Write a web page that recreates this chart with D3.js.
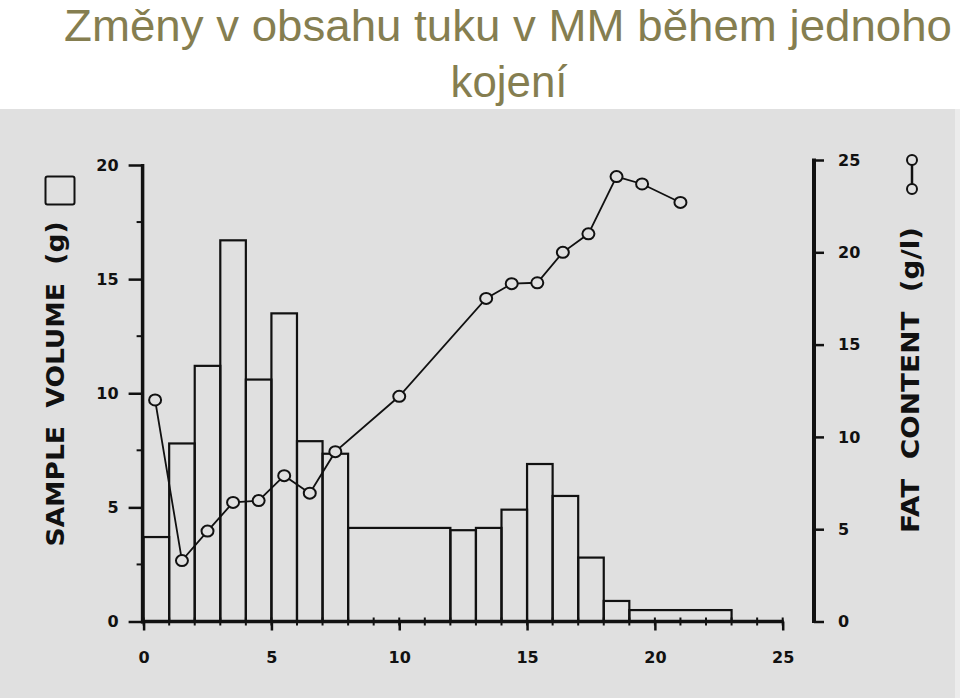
<!DOCTYPE html>
<html>
<head>
<meta charset="utf-8">
<script src="https://cdn.jsdelivr.net/npm/d3@7/dist/d3.min.js"></script>
<style>
  html, body { margin: 0; padding: 0; background: #ffffff; }
  svg { display: block; }
</style>
</head>
<body>
<svg id="chart" width="960" height="698"></svg>
<script>
// ---------- data ----------
const titleLines = ["Změny v obsahu tuku v MM během jednoho", "kojení"];
const binStart = [0, 1, 2, 3, 4, 5, 6, 7, 8, 12, 13, 14, 15, 16, 17, 18, 19];
const binEnd   = [1, 2, 3, 4, 5, 6, 7, 8, 12, 13, 14, 15, 16, 17, 18, 19, 23];
const sampleVolume = [3.7, 7.8, 11.2, 16.7, 10.6, 13.5, 7.9, 7.35, 4.1, 4.0, 4.1, 4.9, 6.9, 5.5, 2.8, 0.9, 0.5];
const fatTime = [0.45, 1.5, 2.5, 3.5, 4.5, 5.5, 6.5, 7.5, 10, 13.4, 14.4, 15.4, 16.4, 17.4, 18.5, 19.5, 21];
const fatContent = [12.0, 3.3, 4.9, 6.45, 6.55, 7.9, 6.95, 9.2, 12.2, 17.5, 18.3, 18.35, 20.0, 21.0, 24.1, 23.7, 22.7];
const xTicks = [0, 5, 10, 15, 20, 25];
const xMinorTicks = d3.range(0, 26, 1);
const yLeftTicks = [0, 5, 10, 15, 20];
const yLeftMinor = [2.5, 7.5, 12.5, 17.5];
const yRightTicks = [0, 5, 10, 15, 20, 25];
const leftLabel = "SAMPLE  VOLUME  (g)";
const rightLabel = "FAT  CONTENT  (g/l)";

// ---------- setup ----------
const svg = d3.select("#chart");
const bg = "#e0e0e0";
const ink = "#111";
const tickFont = "'DejaVu Sans', sans-serif";

svg.append("rect").attr("x", 0).attr("y", 109).attr("width", 955).attr("height", 589).attr("fill", bg);
svg.append("rect").attr("x", 955).attr("y", 109).attr("width", 5).attr("height", 589).attr("fill", "#ececec");

// title
const title = svg.append("g").attr("fill", "#857e50")
  .style("font-family", "'Liberation Sans', Arial, sans-serif").style("font-size", "44px");
title.append("text").attr("x", 508).attr("y", 41).attr("text-anchor", "middle")
  .attr("textLength", 888).attr("lengthAdjust", "spacingAndGlyphs").text(titleLines[0]);
title.append("text").attr("x", 509).attr("y", 97).attr("text-anchor", "middle")
  .attr("textLength", 117).attr("lengthAdjust", "spacingAndGlyphs").text(titleLines[1]);

// scales
const x = d3.scaleLinear().domain([0, 25]).range([143.6, 782.7]);
const yL = d3.scaleLinear().domain([0, 20]).range([621.5, 165]);
const yR = d3.scaleLinear().domain([0, 25]).range([621.5, 160]);

// ---------- bars ----------
const bars = binStart.map((s, i) => ({ s, e: binEnd[i], v: sampleVolume[i] }));
svg.append("g").selectAll("rect").data(bars).join("rect")
  .attr("x", d => x(d.s))
  .attr("y", d => yL(d.v))
  .attr("width", d => x(d.e) - x(d.s))
  .attr("height", d => yL(0) - yL(d.v))
  .attr("fill", "none")
  .attr("stroke", ink)
  .attr("stroke-width", 2.2);

// ---------- fat line ----------
const pts = fatTime.map((t, i) => ({ t, f: fatContent[i] }));
svg.append("path").datum(pts)
  .attr("d", d3.line().x(d => x(d.t)).y(d => yR(d.f)))
  .attr("fill", "none").attr("stroke", ink).attr("stroke-width", 1.8);
svg.append("g").selectAll("ellipse").data(pts).join("ellipse")
  .attr("cx", d => x(d.t)).attr("cy", d => yR(d.f))
  .attr("rx", 6).attr("ry", 5.5)
  .attr("fill", bg).attr("stroke", ink).attr("stroke-width", 2);

// ---------- axes ----------
function styleAxis(g, fontSize) {
  g.select(".domain").remove();
  g.selectAll(".tick line").attr("stroke", ink).attr("stroke-width", 2.5);
  g.selectAll(".tick text").attr("fill", ink)
    .style("font-family", tickFont).style("font-weight", "bold").style("font-size", fontSize);
}

// bottom axis
const gx = svg.append("g").attr("transform", `translate(0,${yL(0)})`)
  .call(d3.axisBottom(x).tickValues(xTicks).tickSize(9).tickPadding(21).tickFormat(d3.format("d")));
styleAxis(gx, "16px");
svg.append("g").selectAll("line").data(xMinorTicks).join("line")
  .attr("x1", d => x(d)).attr("x2", d => x(d))
  .attr("y1", yL(0) - 4).attr("y2", yL(0) + 4)
  .attr("stroke", ink).attr("stroke-width", 2);
svg.append("line").attr("x1", x(0) - 2).attr("x2", x(25) + 1)
  .attr("y1", yL(0)).attr("y2", yL(0)).attr("stroke", ink).attr("stroke-width", 3.5);

// left axis
const gl = svg.append("g").attr("transform", `translate(${x(0) - 1},0)`)
  .call(d3.axisLeft(yL).tickValues(yLeftTicks).tickSize(14).tickPadding(10).tickFormat(d3.format("d")));
styleAxis(gl, "16px");
svg.append("g").selectAll("line").data(yLeftMinor).join("line")
  .attr("x1", x(0) - 7).attr("x2", x(0))
  .attr("y1", d => yL(d)).attr("y2", d => yL(d))
  .attr("stroke", ink).attr("stroke-width", 2);
svg.append("line").attr("x1", x(0) - 1).attr("x2", x(0) - 1)
  .attr("y1", yL(20) - 1).attr("y2", yL(0) + 2).attr("stroke", ink).attr("stroke-width", 3.5);

// right axis
const rx = 814;
const gr = svg.append("g").attr("transform", `translate(${rx},0)`)
  .call(d3.axisRight(yR).tickValues(yRightTicks).tickSize(10).tickPadding(14).tickFormat(d3.format("d")));
styleAxis(gr, "16px");
svg.append("line").attr("x1", rx).attr("x2", rx)
  .attr("y1", yR(25) - 1.5).attr("y2", yR(0) + 1.5).attr("stroke", ink).attr("stroke-width", 4);

// ---------- axis titles & legend symbols ----------
svg.append("text")
  .attr("transform", "translate(63.5,384) rotate(-90)")
  .attr("text-anchor", "middle")
  .attr("textLength", 325).attr("lengthAdjust", "spacingAndGlyphs")
  .attr("fill", ink)
  .style("white-space", "pre")
  .style("font-family", tickFont).style("font-weight", "bold").style("font-size", "24px")
  .text(leftLabel);
svg.append("rect").attr("x", 45.5).attr("y", 176.5).attr("width", 29).attr("height", 28).attr("rx", 2)
  .attr("fill", "none").attr("stroke", ink).attr("stroke-width", 2);

svg.append("text")
  .attr("transform", "translate(918.5,380) rotate(-90)")
  .attr("text-anchor", "middle")
  .attr("textLength", 306).attr("lengthAdjust", "spacingAndGlyphs")
  .attr("fill", ink)
  .style("white-space", "pre")
  .style("font-family", tickFont).style("font-weight", "bold").style("font-size", "24px")
  .text(rightLabel);
svg.append("line").attr("x1", 912).attr("x2", 912).attr("y1", 160).attr("y2", 189)
  .attr("stroke", ink).attr("stroke-width", 2.5);
svg.append("g").selectAll("circle").data([160, 189]).join("circle")
  .attr("cx", 912).attr("cy", d => d).attr("r", 5)
  .attr("fill", bg).attr("stroke", ink).attr("stroke-width", 2);
</script>
</body>
</html>
